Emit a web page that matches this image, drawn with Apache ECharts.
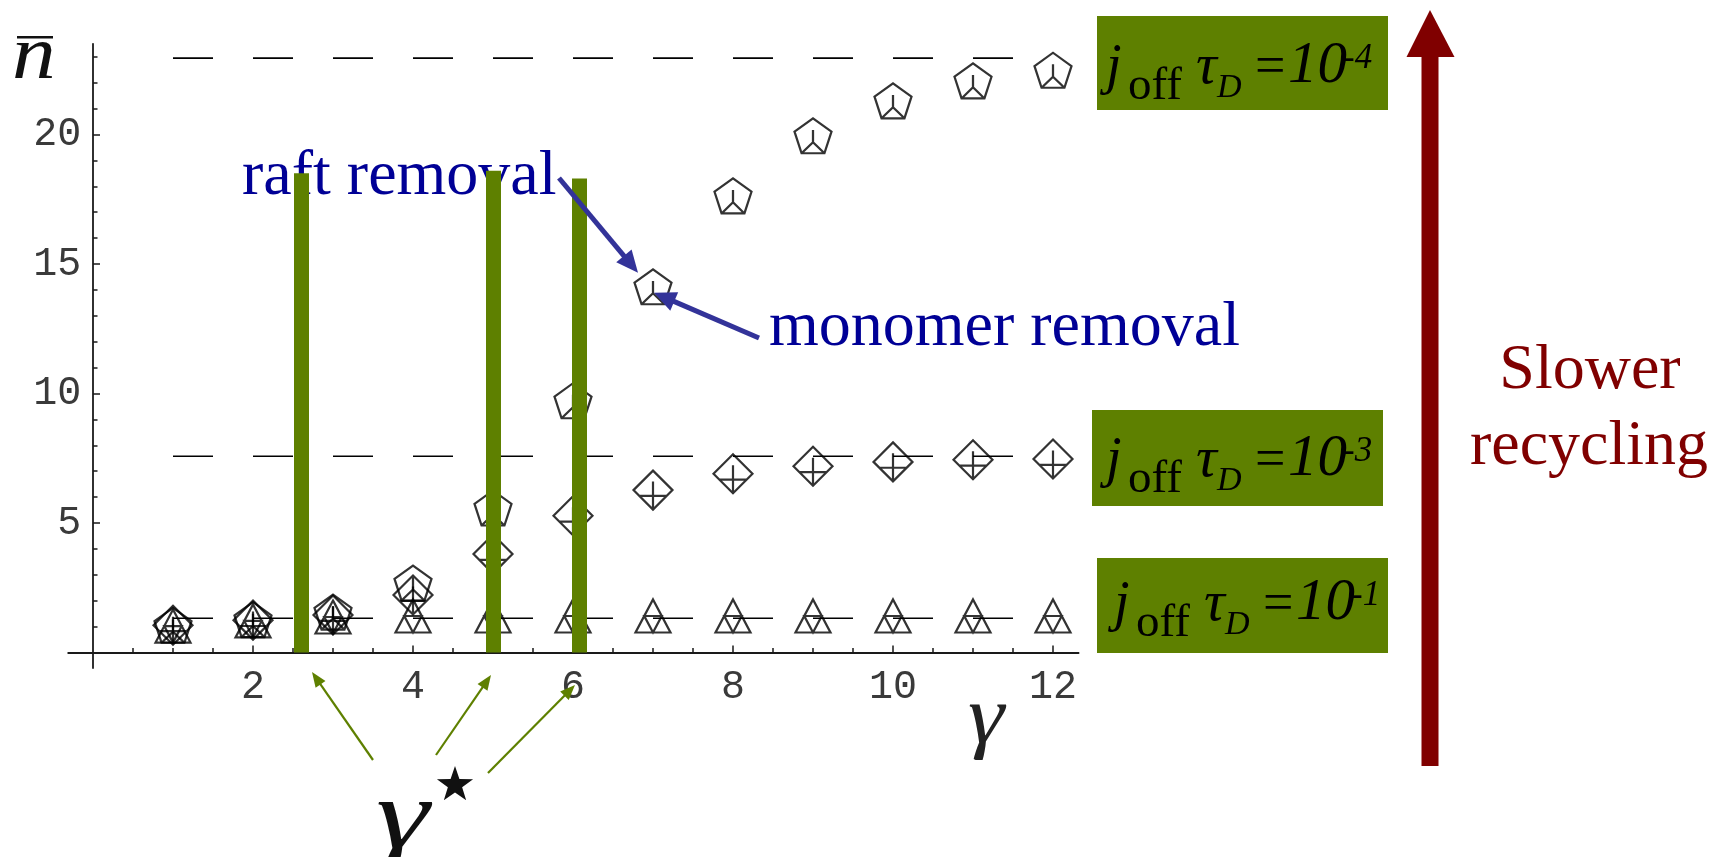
<!DOCTYPE html>
<html>
<head>
<meta charset="utf-8">
<title>Mean raft size versus gamma</title>
<script src="https://cdn.jsdelivr.net/npm/echarts@6/dist/echarts.min.js"></script>
<style>
  html, body { margin: 0; padding: 0; background: #ffffff; }
  #chart { width: 1729px; height: 857px; }
</style>
</head>
<body>
<div id="chart"></div>
<script>
// ---- data ----
const gammaValues = [1, 2, 3, 4, 5, 6, 7, 8, 9, 10, 11, 12];
// mean raft size n̄ for j_off·τ_D = 1e-4 (pentagons)
const nSlow = [1.05, 1.27, 1.56, 2.68, 5.58, 9.72, 14.12, 17.63, 19.95, 21.30, 22.07, 22.48];
// j_off·τ_D = 1e-3 (diamonds)
const nMid = [1.05, 1.25, 1.45, 2.22, 3.80, 5.28, 6.27, 6.90, 7.19, 7.36, 7.44, 7.47];
// j_off·τ_D = 1e-1 (triangles)
const nFast = [1.02, 1.22, 1.37, 1.41, 1.41, 1.41, 1.41, 1.41, 1.41, 1.41, 1.41, 1.41];
// large-gamma plateaus (dashed lines), slow -> fast
const plateaus = [22.95, 7.58, 1.32];
const plateauRange = [1, 12];
// critical gamma* for each recycling rate and the height of its marker bar
const gammaStar = [2.6, 5.0, 6.08];
const gammaStarTop = [18.5, 18.6, 18.3];
// axis ticks
const xLabelTicks = [2, 4, 6, 8, 10, 12];
const xMinorTicks = [0.5, 1, 1.5, 2, 2.5, 3, 3.5, 4, 4.5, 5, 5.5, 6, 6.5, 7, 7.5, 8, 8.5, 9, 9.5, 10, 10.5, 11, 11.5, 12];
const yLabelTicks = [5, 10, 15, 20];
const yMinorTicks = [1, 2, 3, 4, 6, 7, 8, 9, 11, 12, 13, 14, 16, 17, 18, 19, 21, 22, 23];
const rateExponents = ['-4', '-3', '-1'];

// ---- layout ----
const xMin = -0.31, xMax = 12.32, yMin = -0.6, yMax = 23.5;
const originX = 93, originY = 652.5, pxPerX = 80, pxPerY = 25.9;
const gridBox = {
  left: originX + xMin * pxPerX,
  top: originY - yMax * pxPerY,
  width: (xMax - xMin) * pxPerX,
  height: (yMax - yMin) * pxPerY
};
const dashPx = 0.5 * pxPerX;

const INK = '#1a1a1a';
const OLIVE = '#5e8000';
const NAVY_TEXT = '#000096';
const NAVY_ARROW = '#333399';
const MAROON = '#800000';
const SERIF = '"Liberation Serif", "Times New Roman", serif';

const markerPaths = {
  pentagon: 'path://M50 0L97.6 34.5L79.4 90.5L20.6 90.5L2.4 34.5Z M50 30L50 62 M50 62L20.6 90.5 M50 62L79.4 90.5',
  diamond: 'path://M50 0L100 50L50 100L0 50Z M50 28L50 100 M15 65L85 65',
  triangle: 'path://M50 0L100 97L0 97Z M25 48.5L75 48.5L50 97Z'
};
const markerStyle = { color: 'rgba(0,0,0,0)', borderColor: '#000', borderWidth: 2.2 };

function xAxisDef(major) {
  return {
    type: 'value', min: xMin, max: xMax, position: 'bottom',
    axisLine: { show: major, onZero: true, onZeroAxisIndex: 0, lineStyle: { color: INK, width: 1.8 } },
    axisTick: { show: true, inside: true, length: major ? 7 : 4.5,
      customValues: major ? xLabelTicks : xMinorTicks,
      lineStyle: { color: INK, width: 1.5 } },
    axisLabel: { show: major, customValues: xLabelTicks, margin: -1, color: '#3a3a3a',
      fontFamily: '"Liberation Mono", monospace', fontSize: 40 },
    splitLine: { show: false }
  };
}
function yAxisDef(major) {
  return {
    type: 'value', min: yMin, max: yMax, position: 'left',
    axisLine: { show: major, onZero: true, onZeroAxisIndex: 0, lineStyle: { color: INK, width: 1.8 } },
    axisTick: { show: true, inside: true, length: major ? 7 : 4.5,
      customValues: major ? yLabelTicks : yMinorTicks,
      lineStyle: { color: INK, width: 1.5 } },
    axisLabel: { show: major, customValues: yLabelTicks, margin: -13, color: '#3a3a3a',
      fontFamily: '"Liberation Mono", monospace', fontSize: 40 },
    splitLine: { show: false }
  };
}

const pointsOf = (vals) => gammaValues.map((g, i) => [g, vals[i]]);

const option = {
  backgroundColor: '#ffffff',
  animation: false,
  grid: Object.assign({ outerBoundsMode: 'none', containLabel: false }, gridBox),
  xAxis: [xAxisDef(true), xAxisDef(false)],
  yAxis: [yAxisDef(true), yAxisDef(false)],
  series: [
    ...plateaus.map((p) => ({
      type: 'line', silent: true, z: 2,
      data: [[plateauRange[0], p], [plateauRange[1], p]],
      symbol: 'none',
      lineStyle: { color: '#000', width: 1.6, type: [dashPx, dashPx] }
    })),
    { type: 'scatter', z: 3, silent: true, data: pointsOf(nSlow),
      symbol: markerPaths.pentagon, symbolSize: [37, 35], itemStyle: markerStyle },
    { type: 'scatter', z: 3, silent: true, data: pointsOf(nMid),
      symbol: markerPaths.diamond, symbolSize: [39, 39], itemStyle: markerStyle },
    { type: 'scatter', z: 3, silent: true, data: pointsOf(nFast),
      symbol: markerPaths.triangle, symbolSize: [35, 33], itemStyle: markerStyle },
    { type: 'lines', coordinateSystem: 'cartesian2d', z: 5, silent: true,
      data: gammaStar.map((g, i) => ({ coords: [[g, 0], [g, gammaStarTop[i]]] })),
      lineStyle: { color: OLIVE, width: 15, opacity: 1, curveness: 0 } }
  ]
};

const chart = echarts.init(document.getElementById('chart'), null, { renderer: 'canvas', width: 1729, height: 857 });
chart.setOption(option);

// ---- annotations ----
function txt(x, baseline, str, size, opts) {
  opts = opts || {};
  const k = opts.k != null ? opts.k : 0.34;
  return {
    type: 'text', x: x, y: baseline - k * size, z: opts.z != null ? opts.z : 1,
    scaleX: opts.scaleX || 1,
    style: {
      text: str,
      font: (opts.italic ? 'italic ' : '') + size + 'px ' + (opts.family || SERIF),
      fill: opts.color || '#000',
      textAlign: opts.align || 'left',
      textVerticalAlign: 'middle'
    }
  };
}
function arrow(from, to, color, width, headLen, headWidth, z) {
  const dx = to[0] - from[0], dy = to[1] - from[1];
  const L = Math.hypot(dx, dy), ux = dx / L, uy = dy / L;
  const bx = to[0] - ux * headLen, by = to[1] - uy * headLen;
  const nx = -uy * headWidth / 2, ny = ux * headWidth / 2;
  return [
    { type: 'line', z: z, shape: { x1: from[0], y1: from[1], x2: bx + ux, y2: by + uy },
      style: { stroke: color, lineWidth: width } },
    { type: 'polygon', z: z, shape: { points: [[to[0], to[1]], [bx + nx, by + ny], [bx - nx, by - ny]] },
      style: { fill: color } }
  ];
}
function rateBox(bx, by, bw, bh, tx, base, exp) {
  return [
    { type: 'rect', z: 1, shape: { x: bx, y: by, width: bw, height: bh }, style: { fill: OLIVE } },
    txt(tx, base, 'j', 56, { italic: true, z: 2 }),
    txt(tx + 22, base + 16, 'off', 47, { z: 2 }),
    txt(tx + 90, base, 'τ', 58, { italic: true, z: 2 }),
    txt(tx + 111, base + 13, 'D', 34, { italic: true, z: 2 }),
    txt(tx + 149, base, '=', 54, { z: 2 }),
    txt(tx + 182, base, '10', 59, { italic: true, z: 2 }),
    txt(tx + 237, base - 16, exp, 35, { italic: true, z: 2 })
  ];
}
function starPoints(cx, cy, rOut, rIn) {
  const pts = [];
  for (let i = 0; i < 10; i++) {
    const a = -Math.PI / 2 + i * Math.PI / 5;
    const r = i % 2 === 0 ? rOut : rIn;
    pts.push([cx + r * Math.cos(a), cy + r * Math.sin(a)]);
  }
  return pts;
}

const toPx = (x, y) => chart.convertToPixel({ xAxisIndex: 0, yAxisIndex: 0 }, [x, y]);
const p7 = toPx(7, nSlow[6]);

const elements = [
  // axis titles
  txt(12, 84, 'n', 76, { italic: true, color: '#111', scaleX: 1.15 }),
  { type: 'rect', shape: { x: 17, y: 36, width: 36, height: 2.4 }, style: { fill: '#111' } },
  txt(968, 748, 'γ', 82, { italic: true, color: '#222', scaleX: 1.12 }),
  // gamma* label
  txt(376, 856, 'γ', 100, { italic: true, color: '#111', scaleX: 1.35 }),
  { type: 'polygon', shape: { points: starPoints(455, 785, 19, 7.5) }, style: { fill: '#111' } },
  ...arrow([373, 760], [312, 672], OLIVE, 2.2, 15, 12, 1),
  ...arrow([436, 755], [491, 675], OLIVE, 2.2, 15, 12, 1),
  ...arrow([488, 773], [575, 685], OLIVE, 2.2, 15, 12, 1),
  // removal annotations
  txt(242, 199, 'raft removal', 64, { color: NAVY_TEXT }),
  txt(769, 350, 'monomer removal', 64, { color: NAVY_TEXT }),
  ...arrow([559, 178], [p7[0] - 15, p7[1] - 14], NAVY_ARROW, 5, 22, 20, 10),
  ...arrow([759, 338], [p7[0] + 1, p7[1] + 6], NAVY_ARROW, 5, 22, 20, 10),
  // recycling-rate labels
  ...rateBox(1097, 16, 291, 94, 1106, 87, rateExponents[0]),
  ...rateBox(1092, 410, 291, 96, 1106, 480, rateExponents[1]),
  ...rateBox(1097, 558, 291, 95, 1114, 624, rateExponents[2]),
  // slower recycling arrow
  { type: 'rect', shape: { x: 1421.5, y: 55, width: 17, height: 711 }, style: { fill: MAROON } },
  { type: 'polygon', shape: { points: [[1430, 10], [1406.5, 57], [1454.5, 57]] }, style: { fill: MAROON } },
  txt(1590, 393, 'Slower', 64, { color: MAROON, align: 'center' }),
  txt(1589, 469, 'recycling', 64, { color: MAROON, align: 'center' })
];

chart.setOption({ graphic: { elements: elements } });
</script>
</body>
</html>
